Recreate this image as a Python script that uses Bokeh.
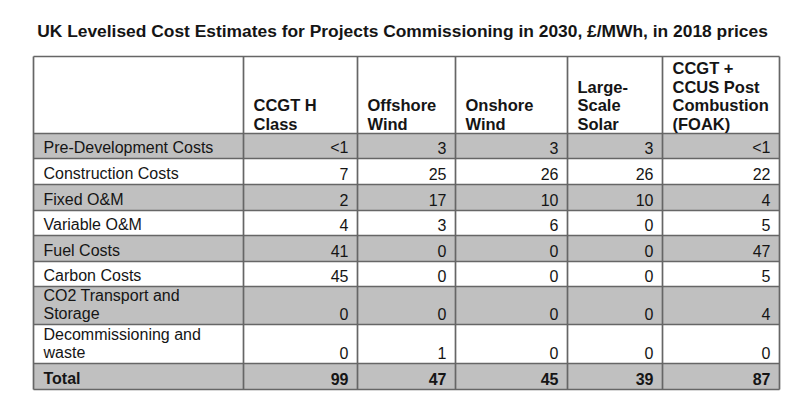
from bokeh.plotting import figure
from bokeh.models import Range1d
from bokeh.core.properties import value
from bokeh.embed import file_html
from bokeh.resources import INLINE

# ---------------- data ----------------
title_text = "UK Levelised Cost Estimates for Projects Commissioning in 2030, £/MWh, in 2018 prices"
tech_headers = [
    ["CCGT H", "Class"],
    ["Offshore", "Wind"],
    ["Onshore", "Wind"],
    ["Large-", "Scale", "Solar"],
    ["CCGT +", "CCUS Post", "Combustion", "(FOAK)"],
]
row_labels = [
    ["Pre-Development Costs"],
    ["Construction Costs"],
    ["Fixed O&M"],
    ["Variable O&M"],
    ["Fuel Costs"],
    ["Carbon Costs"],
    ["CO2 Transport and", "Storage"],
    ["Decommissioning and", "waste"],
    ["Total"],
]
ccgt_h = ["<1", "7", "2", "4", "41", "45", "0", "0", "99"]
offshore_wind = ["3", "25", "17", "3", "0", "0", "0", "1", "47"]
onshore_wind = ["3", "26", "10", "6", "0", "0", "0", "0", "45"]
large_solar = ["3", "26", "10", "0", "0", "0", "0", "0", "39"]
ccgt_ccus = ["<1", "22", "4", "5", "47", "5", "4", "0", "87"]
series = [ccgt_h, offshore_wind, onshore_wind, large_solar, ccgt_ccus]

# ---------------- layout ----------------
col_edges = [33, 243, 357, 455, 567, 662, 779]
row_edges = [56, 133, 158, 184, 210, 235, 261, 286, 324, 363, 389]
GRAY = "#c0c0c0"
LINE = "#666666"
TXT = "#151515"
FONT = "Liberation Sans"
FS = "16px"
HFS = "16.5px"
LH = 18.5

p = figure(width=781, height=401, output_backend="svg", toolbar_location=None,
           x_range=Range1d(0, 781), y_range=Range1d(401, 0), min_border=0)
p.axis.visible = False
p.grid.visible = False
p.outline_line_color = None
p.background_fill_color = "white"

# row fills
nrows = len(row_labels)
ql, qr, qt, qb, qc = [], [], [], [], []
for i in range(nrows):
    ql.append(col_edges[0]); qr.append(col_edges[-1])
    qt.append(row_edges[i + 1]); qb.append(row_edges[i + 2])
    qc.append(GRAY if i % 2 == 0 else "white")
p.quad(left=ql, right=qr, top=qt, bottom=qb, fill_color=qc, line_color=None)

# grid lines
x0s, y0s, x1s, y1s = [], [], [], []
for x in col_edges:
    x0s.append(x); x1s.append(x); y0s.append(row_edges[0]); y1s.append(row_edges[-1])
for y in row_edges:
    x0s.append(col_edges[0]); x1s.append(col_edges[-1]); y0s.append(y); y1s.append(y)
p.segment(x0=x0s, y0=y0s, x1=x1s, y1=y1s, line_color=LINE, line_width=1.7)

# title
p.text(x=[(col_edges[0] + col_edges[-1]) / 2 - 4], y=[30], text=[title_text],
       text_font=value(FONT), text_font_size="17.4px", text_font_style="bold",
       text_align="center", text_baseline="middle", text_color=TXT)

# header text (bottom aligned)
hx, hy, ht = [], [], []
for j, lines in enumerate(tech_headers):
    n = len(lines)
    for k, s in enumerate(lines):
        hx.append(col_edges[j + 1] + 10)
        hy.append(row_edges[1] - 10 - (n - 1 - k) * LH)
        ht.append(s)
p.text(x=hx, y=hy, text=ht, text_font=value(FONT), text_font_size=HFS,
       text_font_style="bold", text_align="left", text_baseline="middle", text_color=TXT)

# row labels
lx, ly, lt = [], [], []
bx, by, bt = [], [], []
for i, lines in enumerate(row_labels):
    n = len(lines)
    bottom = row_edges[i + 2]
    for k, s in enumerate(lines):
        yy = bottom - 11 - (n - 1 - k) * LH
        if s == "Total":
            bx.append(col_edges[0] + 10); by.append(yy); bt.append(s)
        else:
            lx.append(col_edges[0] + 10); ly.append(yy); lt.append(s)
p.text(x=lx, y=ly, text=lt, text_font=value(FONT), text_font_size=FS,
       text_align="left", text_baseline="middle", text_color=TXT)

# values
vx, vy, vt = [], [], []
tx, ty, tt = [], [], []
for j, vals in enumerate(series):
    for i, v in enumerate(vals):
        xx = col_edges[j + 2] - 9
        yy = row_edges[i + 2] - 11
        if i == nrows - 1:
            tx.append(xx); ty.append(yy); tt.append(v)
        else:
            vx.append(xx); vy.append(yy); vt.append(v)
p.text(x=vx, y=vy, text=vt, text_font=value(FONT), text_font_size=FS,
       text_align="right", text_baseline="middle", text_color=TXT)
p.text(x=bx + tx, y=by + ty, text=bt + tt, text_font=value(FONT), text_font_size=FS,
       text_font_style="bold", text_align=["left"] * len(bx) + ["right"] * len(tx),
       text_baseline="middle", text_color=TXT)

open("out.html", "w").write(file_html(p, INLINE))
